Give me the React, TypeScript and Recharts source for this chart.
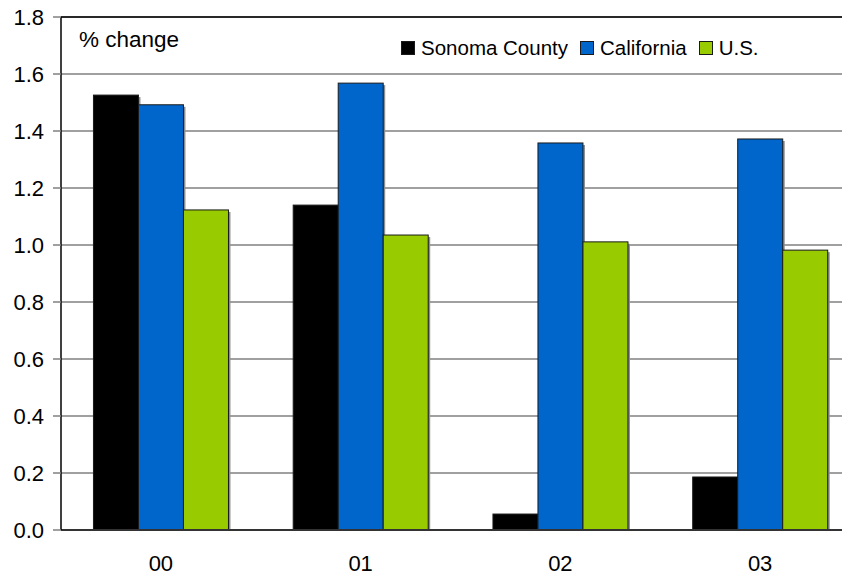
import React from "react";
import { BarChart, Bar, XAxis, YAxis, CartesianGrid, ReferenceLine } from "recharts";

// Year-over-year percent change, 2000–2003
const years = ["00", "01", "02", "03"];
const sonomaCounty = [1.526, 1.14, 0.056, 0.186];
const california = [1.492, 1.568, 1.358, 1.372];
const unitedStates = [1.123, 1.035, 1.011, 0.982];
const yTicks = [0, 0.2, 0.4, 0.6, 0.8, 1.0, 1.2, 1.4, 1.6, 1.8];

const seriesInfo = [
  { key: "sonoma", name: "Sonoma County", color: "#000000" },
  { key: "california", name: "California", color: "#0066CC" },
  { key: "us", name: "U.S.", color: "#99CC00" },
];

const data = years.map((year, i) => ({
  year,
  sonoma: sonomaCounty[i],
  california: california[i],
  us: unitedStates[i],
}));

const FONT = "Arial, 'Liberation Sans', sans-serif";

// Bar with a soft grey drop shadow on its right side
const ShadowBar = (props: any) => {
  const { x, y, width, height, fill } = props;
  if (!height || height <= 0) return null;
  return (
    <g>
      <rect x={x + 2} y={y + 2} width={width} height={height - 2} fill="#8c8c8c" />
      <rect x={x} y={y} width={width} height={height} fill={fill} stroke="#1a1a1a" strokeWidth={1} />
    </g>
  );
};

const LegendBox = () => (
  <div
    style={{
      position: "absolute",
      left: 393,
      top: 36,
      display: "flex",
      alignItems: "center",
      fontFamily: FONT,
      fontSize: 20.5,
      color: "#000",
      whiteSpace: "nowrap",
    }}
  >
    {seriesInfo.map((s) => (
      <div key={s.key} style={{ display: "flex", alignItems: "center", marginRight: 12 }}>
        <span
          style={{
            display: "inline-block",
            width: 12,
            height: 12,
            background: s.color,
            border: "1px solid #1a1a1a",
            marginRight: 6,
          }}
        />
        <span>{s.name}</span>
      </div>
    ))}
  </div>
);

export default function App() {
  return (
    <div style={{ position: "relative", width: 842, height: 577, overflow: "hidden", marginTop: -8 }}>
      <BarChart
        width={852}
        height={577}
        data={data}
        margin={{ top: 17, right: 0, bottom: 8, left: 0 }}
        barCategoryGap="16.25%"
        barGap={0}
      >
        <CartesianGrid horizontal vertical={false} stroke="#808080" strokeWidth={1.5} />
        <XAxis
          dataKey="year"
          height={39}
          tickLine={false}
          axisLine={{ stroke: "#333333", strokeWidth: 2 }}
          tick={{ fill: "#000", fontSize: 22, fontFamily: FONT }}
          tickMargin={19}
        />
        <YAxis
          width={53}
          domain={[0, 1.8]}
          ticks={yTicks}
          interval={0}
          tickFormatter={(v: number) => v.toFixed(1)}
          axisLine={{ stroke: "#000", strokeWidth: 1.5 }}
          tickLine={{ stroke: "#808080", strokeWidth: 1.5 }}
          tickSize={8}
          tickMargin={9}
          tick={{ fill: "#000", fontSize: 22, fontFamily: FONT }}
        />
        <ReferenceLine y={1.8} stroke="#000" strokeWidth={1.5} />
        {seriesInfo.map((s) => (
          <Bar
            key={s.key}
            dataKey={s.key}
            name={s.name}
            fill={s.color}
            shape={<ShadowBar />}
            isAnimationActive={false}
          />
        ))}
      </BarChart>
      <LegendBox />
      <div
        style={{
          position: "absolute",
          left: 71,
          top: 27,
          fontFamily: FONT,
          fontSize: 22.5,
          color: "#000",
        }}
      >
        % change
      </div>
    </div>
  );
}
